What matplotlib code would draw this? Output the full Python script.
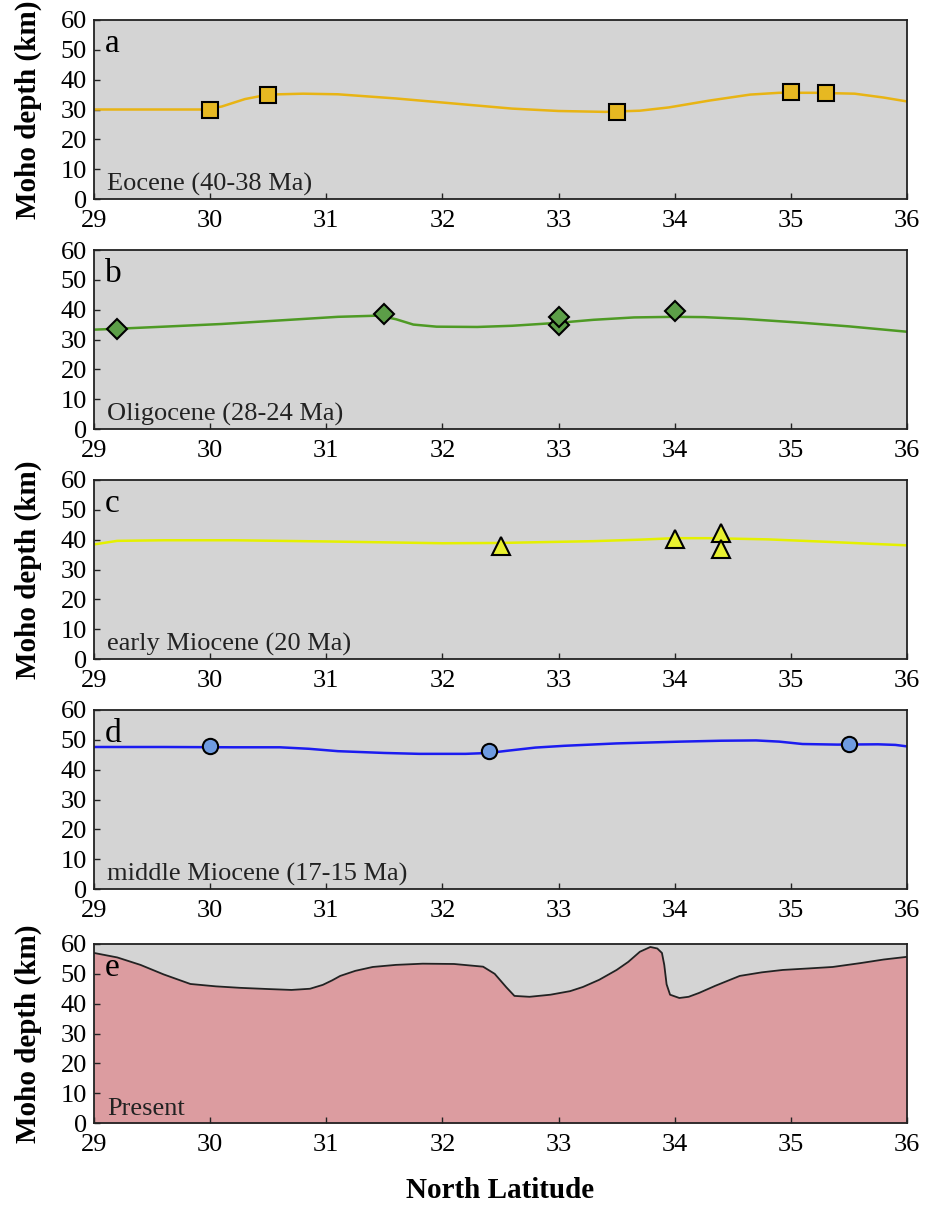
import matplotlib.pyplot as plt

plt.rcParams['font.family'] = ['Liberation Serif', 'DejaVu Serif']

# --- panel a: Eocene (40-38 Ma)
eoc_pt_lat = [30.0, 30.5, 33.5, 35.0, 35.3]
eoc_pt_dep = [29.8, 35.0, 29.3, 36.0, 35.6]
eoc_ln_lat = [29.0, 29.5, 29.95, 30.1, 30.3, 30.5, 30.8, 31.1, 31.6, 32.1, 32.6, 33.0,
              33.4, 33.7, 33.95, 34.3, 34.65, 34.9, 35.2, 35.55, 35.8, 36.0]
eoc_ln_dep = [30.0, 30.0, 30.0, 31.0, 33.5, 35.0, 35.3, 35.1, 33.7, 32.0, 30.3, 29.5,
              29.2, 29.6, 30.7, 33.0, 35.0, 35.6, 35.6, 35.3, 34.0, 32.7]

# --- panel b: Oligocene (28-24 Ma)
oli_pt_lat = [29.2, 31.5, 33.0, 33.0, 34.0]
oli_pt_dep = [33.4, 38.4, 35.0, 37.4, 39.6]
oli_ln_lat = [29.0, 29.2, 29.6, 30.1, 30.6, 31.1, 31.45, 31.6, 31.75, 31.95, 32.3, 32.6,
              33.0, 33.3, 33.65, 34.0, 34.25, 34.6, 35.1, 35.5, 36.0]
oli_ln_dep = [33.3, 33.6, 34.3, 35.2, 36.4, 37.6, 38.0, 36.8, 35.0, 34.3, 34.2, 34.6,
              35.6, 36.6, 37.4, 37.6, 37.5, 36.9, 35.6, 34.4, 32.6]

# --- panel c: early Miocene (20 Ma)
emi_pt_lat = [32.5, 34.0, 34.4, 34.4]
emi_pt_dep = [38.0, 40.2, 42.2, 37.0]
emi_ln_lat = [29.0, 29.2, 29.6, 30.2, 31.0, 32.0, 32.5, 33.3, 33.7, 34.0, 34.3, 34.8,
              35.3, 35.7, 36.0]
emi_ln_dep = [38.4, 39.6, 39.8, 39.8, 39.4, 38.8, 38.9, 39.5, 40.0, 40.5, 40.5, 40.1,
              39.3, 38.6, 38.1]

# --- panel d: middle Miocene (17-15 Ma)
mmi_pt_lat = [30.0, 32.4, 35.5]
mmi_pt_dep = [48.0, 46.1, 48.6]
mmi_ln_lat = [29.0, 29.6, 30.2, 30.6, 30.85, 31.1, 31.5, 31.8, 32.2, 32.4, 32.55, 32.8,
              33.05, 33.5, 34.05, 34.4, 34.7, 34.9, 35.1, 35.4, 35.75, 35.9, 36.0]
mmi_ln_dep = [47.6, 47.6, 47.5, 47.5, 47.0, 46.2, 45.6, 45.3, 45.3, 45.6, 46.3, 47.4,
              48.0, 48.8, 49.4, 49.7, 49.8, 49.4, 48.6, 48.4, 48.5, 48.3, 47.8]

# --- panel e: Present
pre_lat = [29.0, 29.2, 29.4, 29.6, 29.83, 30.05, 30.26, 30.5, 30.7, 30.86, 30.97, 31.05,
           31.12, 31.25, 31.4, 31.6, 31.83, 32.1, 32.35, 32.45, 32.55, 32.62, 32.75,
           32.93, 33.1, 33.21, 33.35, 33.5, 33.6, 33.7, 33.79, 33.85, 33.89, 33.91,
           33.93, 33.96, 34.04, 34.12, 34.21, 34.35, 34.56, 34.75, 34.93, 35.15, 35.36,
           35.6, 35.8, 36.0]
pre_dep = [57.0, 55.5, 53.0, 49.8, 46.6, 45.8, 45.3, 44.9, 44.6, 45.0, 46.3, 47.8,
           49.3, 51.0, 52.3, 53.0, 53.4, 53.3, 52.4, 50.0, 45.5, 42.6, 42.3,
           43.0, 44.2, 45.6, 48.0, 51.3, 54.0, 57.4, 59.0, 58.5, 57.0, 53.0,
           46.5, 43.0, 41.9, 42.3, 43.6, 46.0, 49.3, 50.5, 51.3, 51.8, 52.3,
           53.6, 54.8, 55.7]

panels = ['a', 'b', 'c', 'd', 'e']
labels = ['Eocene (40-38 Ma)', 'Oligocene (28-24 Ma)', 'early Miocene (20 Ma)',
          'middle Miocene (17-15 Ma)', 'Present']
xticks = [29, 30, 31, 32, 33, 34, 35, 36]
yticks = [0, 10, 20, 30, 40, 50, 60]

fig = plt.figure(figsize=(9.26, 12.06), dpi=100)
left, width, height = 94/926, 813/926, 179/1206
tops = [20, 250, 480, 710, 944]
axes = [fig.add_axes([left, 1 - (t + 179)/1206, width, height]) for t in tops]

bg = '#d4d4d4'
for i, ax in enumerate(axes):
    ax.set_facecolor(bg)
    ax.set_xlim(29, 36)
    ax.set_ylim(0, 60)
    ax.set_xticks(xticks)
    ax.set_yticks(yticks)
    ax.tick_params(direction='in', length=4, width=1, labelsize=19, color='#222222')
    ax.tick_params(axis='x', pad=8)
    ax.tick_params(axis='y', pad=5)
    for s in ax.spines.values():
        s.set_linewidth(1.3)
        s.set_color('#222222')
    ax.text(0.013, 0.95, panels[i], transform=ax.transAxes, ha='left', va='top', fontsize=24)
    ax.text(0.016, 0.015, labels[i], transform=ax.transAxes, ha='left', va='bottom',
            fontsize=19, color='#222222')
    if i in (0, 2, 4):
        ax.set_ylabel('Moho depth (km)', fontsize=21, fontweight='bold')
        ax.yaxis.set_label_coords(-0.064, 0.5)

ax = axes[0]
ax.plot(eoc_ln_lat, eoc_ln_dep, color='#e8b414', lw=1.8, zorder=2)
ax.plot(eoc_pt_lat, eoc_pt_dep, ls='none', marker='s', ms=11, mfc='#e6b822',
        mec='black', mew=1.5, zorder=3)

ax = axes[1]
ax.plot(oli_ln_lat, oli_ln_dep, color='#4e9a24', lw=1.8, zorder=2)
ax.plot(oli_pt_lat, oli_pt_dep, ls='none', marker='D', ms=10, mfc='#5c9e48',
        mec='black', mew=1.5, zorder=3)

ax = axes[2]
ax.plot(emi_ln_lat, emi_ln_dep, color='#e4f000', lw=1.8, zorder=2)
ax.plot(emi_pt_lat, emi_pt_dep, ls='none', marker='^', ms=13, mfc='#e8f030',
        mec='black', mew=1.5, zorder=3)

ax = axes[3]
ax.plot(mmi_ln_lat, mmi_ln_dep, color='#1c1cf0', lw=1.8, zorder=2)
ax.plot(mmi_pt_lat, mmi_pt_dep, ls='none', marker='o', ms=11, mfc='#6f9be0',
        mec='black', mew=1.5, zorder=3)

ax = axes[4]
ax.fill_between(pre_lat, 0, pre_dep, color='#dc9ca0', lw=0, zorder=1)
ax.plot(pre_lat, pre_dep, color='#222222', lw=1.3, zorder=2)

fig.text((94 + 813/2)/926, 1 - 1190/1206, 'North Latitude', ha='center', va='center',
         fontsize=21, fontweight='bold')

fig.savefig('out.png', dpi=100)
